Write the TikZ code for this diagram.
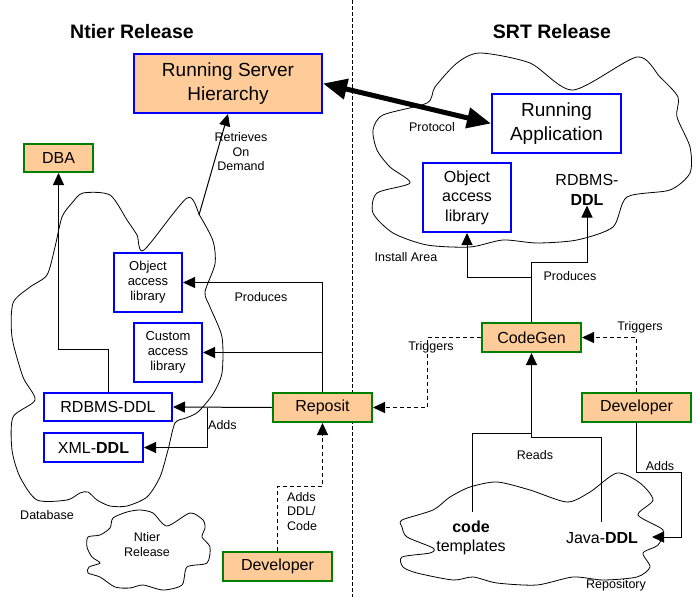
\documentclass[tikz,border=0pt]{standalone}
\usepackage{fontspec}
\setmainfont{Liberation Sans}
\usetikzlibrary{arrows.meta,calc}
\definecolor{peach}{RGB}{255,204,153}
\definecolor{bblue}{RGB}{0,0,255}
\definecolor{ggreen}{RGB}{0,128,0}
\begin{document}
\begin{tikzpicture}[x=1pt,y=-1pt,
  bluebox/.style={draw=bblue,line width=2pt,fill=white,inner sep=0pt,align=center},
  greenbox/.style={draw=ggreen,line width=2pt,fill=peach,inner sep=0pt,align=center},
  arr/.style={line width=1pt,-{Triangle[length=12pt,width=11pt]}},
  ln/.style={line width=1pt},
  dsh/.style={line width=1pt,dash pattern=on 4pt off 3pt},
  darr/.style={dsh,-{Triangle[length=12pt,width=11pt]}},
  cloudline/.style={line width=0.8pt},
  bigf/.style={font=\fontsize{19}{23.5}\selectfont},
  midf/.style={font=\fontsize{16}{19.5}\selectfont},
  smlf/.style={font=\fontsize{13}{15}\selectfont},
  lab/.style={font=\fontsize{12.5}{14.5}\selectfont,inner sep=0pt,align=center},
  title/.style={font=\fontsize{19.5}{23}\selectfont\bfseries,inner sep=0pt}
]
\useasboundingbox[fill=white] (0,0) rectangle (699,597);

% divider
\draw[dsh,dash pattern=on 4pt off 2pt] (352,0) coordinate (divt) -- (352,597) coordinate (divb);

% titles
\node[title] (tl) at (132,32) {Ntier Release};
\node[title] (tr) at (552,32) {SRT Release};

% clouds
\draw[cloudline] plot[smooth cycle, tension=0.45] coordinates {
(72,203) (83,193) (110,195) (127,220) (137,235) (144,250) (187,198)
(200,216) (213,241) (215,264) (205,292) (210,307) (222,337) (222,373)
(213,394) (198,412) (186,418) (175,423) (168,450) (160,477) (147,497)
(127,506) (110,506) (97,500) (88,492) (80,493) (67,500) (37,500)
(20,477) (12,450) (13,417) (35,400) (23,377) (12,337) (13,303)
(30,287) (47,275) (55,247) (62,217)};
\draw[cloudline] plot[smooth cycle, tension=0.45] coordinates {
(480,53) (530,63) (573,90) (637,57) (660,77) (678,97) (677,117)
(690,147) (690,173) (670,190) (627,197) (613,227) (577,240) (537,243)
(503,240) (470,247) (427,245) (393,233) (373,213) (377,193) (410,183)
(390,167) (377,150) (373,130) (383,115) (427,103) (435,87) (457,63)};
\draw[cloudline] plot[smooth cycle, tension=0.45] coordinates {
(402,520) (433,510) (450,497) (470,487) (497,482) (530,490) (567,502)
(590,492) (617,473) (640,483) (653,500) (638,515) (663,530) (658,545)
(643,553) (650,567) (637,577) (603,580) (573,577) (537,585) (497,583)
(473,577) (453,580) (417,573) (403,567) (402,557) (430,553) (433,548)
(407,537) (402,527)};
\draw[cloudline] plot[smooth cycle, tension=0.45] coordinates {
(88,537) (100,535) (110,528) (113,518) (127,512) (140,510) (153,513)
(167,526) (190,513) (203,520) (205,528) (202,537) (210,547) (207,563)
(187,567) (182,585) (163,590) (143,585) (130,588) (115,587) (100,577)
(88,573) (89,567) (100,563) (92,557) (87,547)};

% boxes
\node[bluebox,fill=peach,bigf,minimum width=188pt,minimum height=59pt] (rsh) at (228,83.5) {Running Server\\Hierarchy};
\node[bluebox,bigf,minimum width=129pt,minimum height=59pt] (app) at (556.5,123.5) {Running\\Application};
\node[greenbox,midf,minimum width=69pt,minimum height=28pt] (dba) at (58.5,158) {DBA};
\node[bluebox,smlf,minimum width=68pt,minimum height=59pt] (oal) at (148,282.5) {Object\\access\\library};
\node[bluebox,smlf,minimum width=68pt,minimum height=59pt] (cal) at (168,352.5) {Custom\\access\\library};
\node[bluebox,midf,minimum width=128pt,minimum height=28pt] (rdbms) at (108,407) {RDBMS-DDL};
\node[bluebox,midf,minimum width=99pt,minimum height=29pt] (xml) at (93.5,447.5) {XML-\textbf{DDL}};
\node[greenbox,midf,minimum width=99pt,minimum height=29pt] (reposit) at (322.5,407.5) {Reposit};
\node[greenbox,midf,minimum width=109pt,minimum height=29pt] (devl) at (277.5,566.5) {Developer};
\node[bluebox,midf,minimum width=88pt,minimum height=69pt] (oar) at (467,197.5) {Object\\access\\library};
\node[inner sep=0pt,midf,align=center] (ddlr) at (587,190) {RDBMS-\\\textbf{DDL}};
\node[greenbox,midf,minimum width=99pt,minimum height=29pt] (codegen) at (531.5,337.5) {CodeGen};
\node[greenbox,midf,minimum width=109pt,minimum height=29pt] (devr) at (636.5,407.5) {Developer};

% cloud-internal texts
\node[inner sep=0pt,align=center,font=\fontsize{16}{19}\selectfont] (ct) at (471,537.5) {\textbf{code}\\templates};
\node[inner sep=0pt,midf] (jd) at (602,538) {Java-\textbf{DDL}};

% labels
\node[lab] (retr) at (241,152) {Retrieves\\On\\Demand};
\node[lab] (proto) at (432,127) {Protocol};
\node[lab] (inst) at (406,257) {Install Area};
\node[lab] (prodl) at (261,297) {Produces};
\node[lab] (prodr) at (570,276) {Produces};
\node[lab,anchor=west] (addsl) at (208,425) {Adds};
\node[lab] (dbl) at (47,515) {Database};
\node[lab] (ntr) at (147,544.5) {Ntier\\Release};
\node[lab,align=left,anchor=west] (addsddl) at (287,511.5) {Adds\\DDL/\\Code};
\node[lab] (trigl) at (431,347) {Triggers};
\node[lab] (trigr) at (640,327) {Triggers};
\node[lab] (reads) at (535,455) {Reads};
\node[lab] (addsr) at (660,466) {Adds};
\node[lab] (repo) at (616,585) {Repository};

% connectors
\draw[line width=5pt,{Triangle[length=24pt,width=20pt]}-{Triangle[length=24pt,width=20pt]}] (rsh.east) -- (app.west);
\coordinate (rtv) at (199,215);
\draw[arr] (rtv) -- (rsh.south);
\draw[arr] (rdbms.north) -- ++(0,-43) -| (dba.south);
\draw[arr] (reposit.north) |- (oal.east);
\draw[arr] (reposit.north) |- (cal.east);
\draw[arr] (reposit.west) -- (rdbms.east);
\coordinate (addsj) at (207,407.5);
\draw[arr] (addsj) |- (xml.east);
\draw[darr] (devl.north) -- ++(0,-65) -| (reposit.south);
\draw[darr] (codegen.west) -- ++(-54,0) |- (reposit.east);
\draw[darr] (devr.north) |- (codegen.east);
\draw[arr] (codegen.north) -- ++(0,-45) -| (oar.south);
\draw[arr] (codegen.north) -- ++(0,-60) -| (ddlr.south);
\coordinate (ctop) at (472.5,512);
\coordinate (jtop) at (601,522);
\draw[ln] (ctop) |- ($(codegen.south)+(0,80)$);
\draw[arr] (jtop) |- ($(codegen.south)+(0,84)$) -- (codegen.south);
\coordinate (adde) at (652,537);
\draw[arr] (devr.south) |- ++(45,49) |- (adde);
\end{tikzpicture}
\end{document}
